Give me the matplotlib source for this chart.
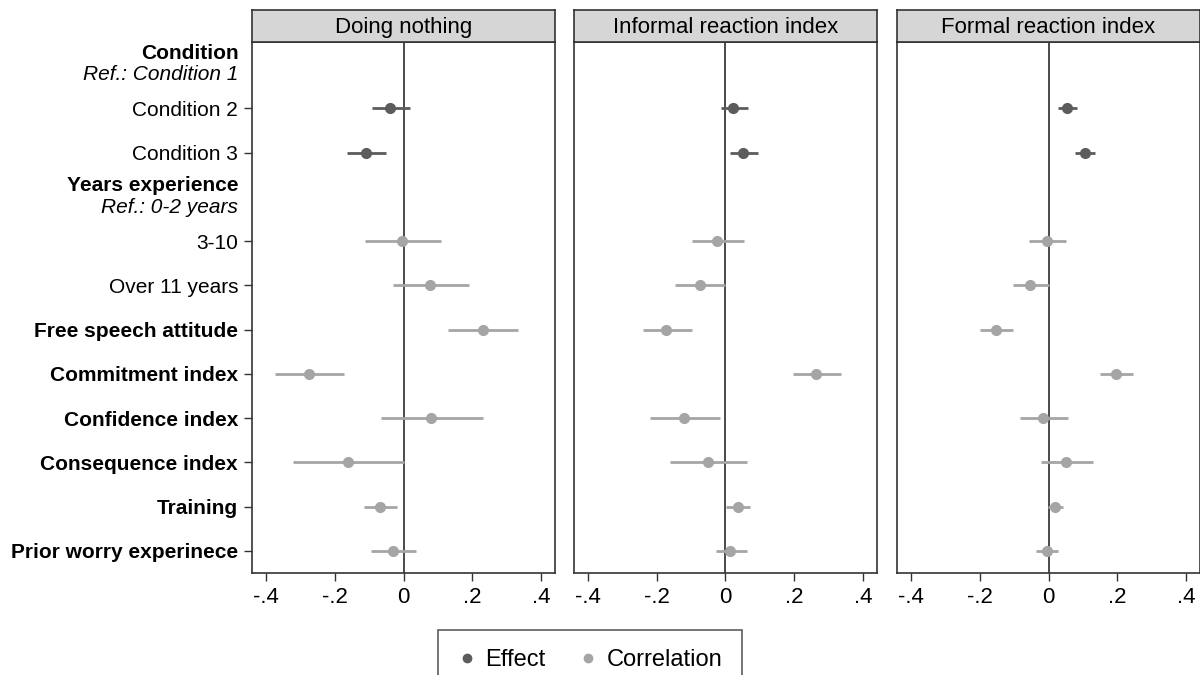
import matplotlib
matplotlib.use("Agg")
import matplotlib.pyplot as plt
import matplotlib.transforms as mtransforms
from matplotlib.lines import Line2D
import numpy as np

plt.rcParams['font.family'] = ['Liberation Sans', 'DejaVu Sans']

# ---- data ----
panels = ["Doing nothing", "Informal reaction index", "Formal reaction index"]

# row 0 and row 3 are group headers, the rest carry estimates
row_labels = ["Condition", "Condition 2", "Condition 3", "Years experience", "3-10",
              "Over 11 years", "Free speech attitude", "Commitment index",
              "Confidence index", "Consequence index", "Training", "Prior worry experinece"]
header_rows = {0: "Ref.: Condition 1", 3: "Ref.: 0-2 years"}
bold_rows = [6, 7, 8, 9, 10, 11]
data_rows = [1, 2, 4, 5, 6, 7, 8, 9, 10, 11]
kind = ["Effect", "Effect", "Correlation", "Correlation", "Correlation", "Correlation",
        "Correlation", "Correlation", "Correlation", "Correlation"]

est_nothing = [-0.038, -0.108, -0.004, 0.076, 0.231, -0.274, 0.081, -0.161, -0.069, -0.030]
lo_nothing = [-0.092, -0.163, -0.113, -0.031, 0.129, -0.373, -0.065, -0.320, -0.116, -0.093]
hi_nothing = [0.018, -0.050, 0.110, 0.189, 0.333, -0.172, 0.231, 0.000, -0.018, 0.037]

est_informal = [0.022, 0.051, -0.024, -0.073, -0.172, 0.263, -0.120, -0.050, 0.035, 0.013]
lo_informal = [-0.013, 0.014, -0.098, -0.146, -0.239, 0.195, -0.220, -0.161, 0.003, -0.028]
hi_informal = [0.065, 0.095, 0.054, 0.000, -0.098, 0.335, -0.017, 0.062, 0.070, 0.062]

est_formal = [0.055, 0.105, -0.003, -0.054, -0.153, 0.197, -0.016, 0.051, 0.019, -0.003]
lo_formal = [0.029, 0.077, -0.056, -0.104, -0.200, 0.151, -0.083, -0.023, -0.002, -0.035]
hi_formal = [0.084, 0.134, 0.050, 0.000, -0.102, 0.246, 0.058, 0.128, 0.043, 0.027]

xticks = [-0.4, -0.2, 0, 0.2, 0.4]
xticklabels = ["-.4", "-.2", "0", ".2", ".4"]

estimates = [est_nothing, est_informal, est_formal]
lows = [lo_nothing, lo_informal, lo_formal]
highs = [hi_nothing, hi_informal, hi_formal]

colors = {"Effect": "#5c5c5c", "Correlation": "#a5a5a5"}

fig = plt.figure(figsize=(12, 6.75), dpi=100)

lefts = [0.210, 0.4783, 0.7475]
width = 0.2525
bottom = 0.1511
height = 0.7867
strip_h = 0.0474

for p in range(3):
    ax = fig.add_axes([lefts[p], bottom, width, height])
    ax.axvline(0, color="#4a4a4a", lw=1.4, zorder=1)
    for i, r in enumerate(data_rows):
        c = colors[kind[i]]
        ax.plot([lows[p][i], highs[p][i]], [r, r], color=c, lw=2, solid_capstyle="butt", zorder=2)
        ax.plot(estimates[p][i], r, "o", color=c, ms=7, zorder=3)
    ax.set_xlim(-0.44, 0.44)
    ax.set_ylim(11.5, -0.5)
    ax.set_xticks(xticks)
    ax.set_xticklabels(xticklabels, fontsize=16)
    ax.set_yticks(data_rows)
    ax.tick_params(axis="both", length=6, width=1, color="#333333", pad=4)
    for s in ax.spines.values():
        s.set_color("#333333")
        s.set_linewidth(1.2)
    if p == 0:
        ax.set_yticklabels([row_labels[r] for r in data_rows], fontsize=15)
        for lab, r in zip(ax.get_yticklabels(), data_rows):
            if r in bold_rows:
                lab.set_fontweight("bold")
        trans = mtransforms.blended_transform_factory(ax.transAxes, ax.transData)
        for r, ref in header_rows.items():
            ax.text(-0.045, r - 0.25, row_labels[r], transform=trans, ha="right",
                    va="center", fontsize=15, fontweight="bold")
            ax.text(-0.045, r + 0.24, ref, transform=trans, ha="right",
                    va="center", fontsize=15, style="italic")
    else:
        ax.set_yticklabels([])
        ax.tick_params(axis="y", length=0)

    strip = fig.add_axes([lefts[p], bottom + height, width, strip_h])
    strip.set_facecolor("#d6d6d6")
    strip.set_xticks([])
    strip.set_yticks([])
    for s in strip.spines.values():
        s.set_color("#333333")
        s.set_linewidth(1.2)
    strip.text(0.5, 0.45, panels[p], ha="center", va="center", fontsize=16,
               transform=strip.transAxes)

handles = [Line2D([], [], ls="none", marker="o", color=colors["Effect"], ms=6),
           Line2D([], [], ls="none", marker="o", color=colors["Correlation"], ms=6)]
leg = fig.legend(handles, ["Effect", "Correlation"], loc="upper center",
                 bbox_to_anchor=(0.4917, 0.0667), ncol=2, fontsize=17,
                 frameon=True, fancybox=False, edgecolor="#333333",
                 borderpad=0.8, borderaxespad=0, handletextpad=0.4,
                 columnspacing=1.4, handlelength=0.8)
leg.get_frame().set_linewidth(1.2)

fig.savefig("out.png", dpi=100)
